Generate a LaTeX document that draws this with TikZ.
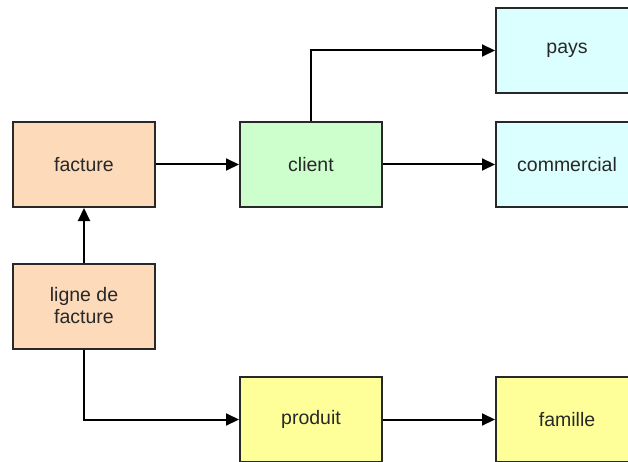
\documentclass[tikz,border=0pt]{standalone}
\usepackage{fontspec}
\setmainfont{Liberation Sans}
\usetikzlibrary{arrows.meta}
\definecolor{peach}{RGB}{252,218,186}
\definecolor{mint}{RGB}{204,255,204}
\definecolor{ice}{RGB}{219,255,255}
\definecolor{lemon}{RGB}{255,255,153}
\definecolor{ink}{RGB}{40,40,40}
\tikzset{
  entity/.style={draw=ink, line width=2pt, minimum width=142pt, minimum height=85pt,
    inner sep=0pt, font=\fontsize{19.5}{23}\selectfont, text=ink, align=center},
  link/.style={draw=black, line width=2pt, -{Triangle[length=13pt,width=12pt]}}
}
\begin{document}
\begin{tikzpicture}[x=1pt,y=-1pt]
  \useasboundingbox (0,0) rectangle (628,462);
  \begin{scope}
    \clip (0,0) rectangle (628,462);
    \node[entity, fill=peach] (facture) at (84,164.5) {facture};
    \node[entity, fill=peach] (ligne) at (84,306) {ligne de\\[-1pt]facture};
    \node[entity, fill=mint] (client) at (311,164.5) {client};
    \node[entity, fill=ice] (pays) at (567,50.5) {pays};
    \node[entity, fill=ice] (commercial) at (567,164.5) {commercial};
    \node[entity, fill=lemon] (produit) at (311,419.5) {produit};
    \node[entity, fill=lemon] (famille) at (567,419.5) {famille};
  \end{scope}
  \draw[link] (facture) -- (client);
  \draw[link] (client) -- (commercial);
  \draw[link] (client.north) |- (pays.west);
  \draw[link] (ligne) -- (facture);
  \draw[link] (ligne.south) |- (produit.west);
  \draw[link] (produit) -- (famille);
\end{tikzpicture}
\end{document}
